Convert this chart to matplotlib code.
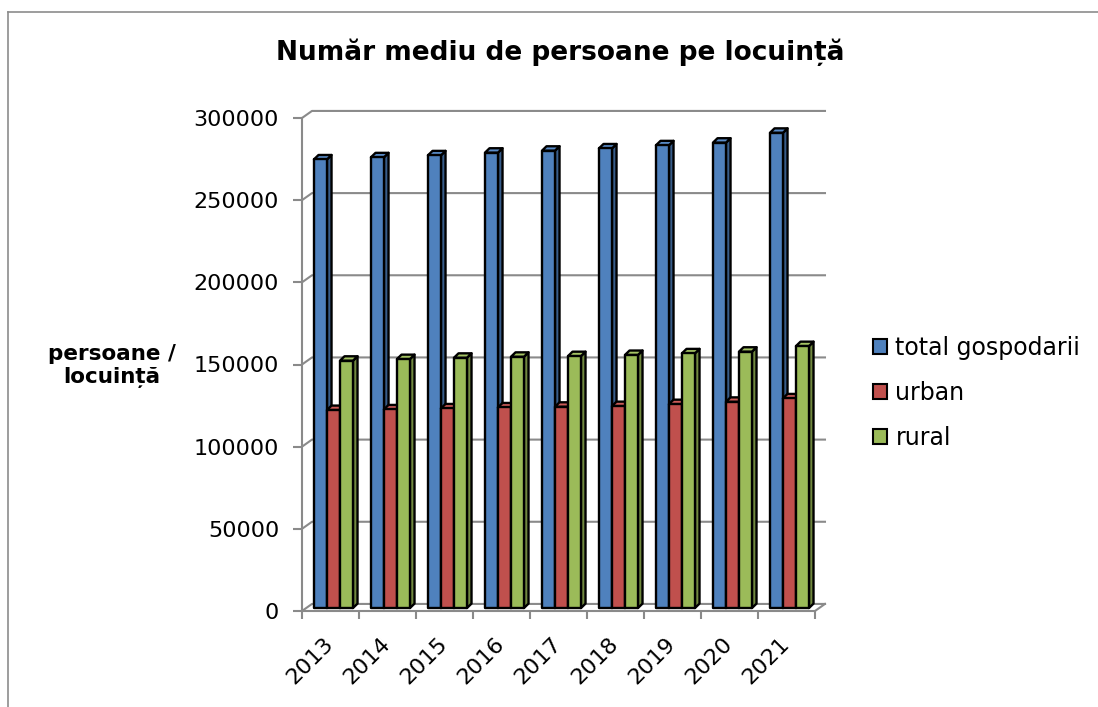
import matplotlib
matplotlib.use("Agg")
import matplotlib.pyplot as plt
from matplotlib.patches import Polygon, Patch
from matplotlib.lines import Line2D
import numpy as np

# values (persons)
years = ["2013", "2014", "2015", "2016", "2017", "2018", "2019", "2020", "2021"]
total = [273000, 274300, 275500, 277100, 278300, 279700, 281600, 283200, 289200]
urban = [120500, 120900, 121500, 122100, 122500, 122900, 124100, 125500, 127600]
rural = [150500, 151500, 152300, 152900, 153300, 154000, 155000, 156000, 159400]
series_names = ["total gospodarii", "urban", "rural"]
yticks = [0, 50000, 100000, 150000, 200000, 250000, 300000]

front_col = ["#4F81BD", "#C0504D", "#9BBB59"]
top_col = ["#5A8CC8", "#CB5B58", "#A5C464"]
side_col = ["#385D8A", "#8C3836", "#71893F"]
grid_col = "#8a8a8a"

W, H = 1098, 707
fig = plt.figure(figsize=(W / 100, H / 100), dpi=100)
ax = fig.add_axes([302 / W, 96 / H, 513 / W, 493 / H])
ax.set_xlim(-0.5, len(years) - 0.5)
ax.set_ylim(0, 300000)
ax.patch.set_visible(False)
for s in ax.spines.values():
    s.set_visible(False)

# back wall / side wall gridlines
wall_dx, wall_dy = 0.175, 4300
xr = len(years) - 0.5
for v in yticks:
    ax.plot([-0.5, -0.5 + wall_dx, xr + wall_dx], [v, v + wall_dy, v + wall_dy],
            color=grid_col, lw=1.5, clip_on=False, zorder=1)
ax.plot([-0.5, -0.5], [0, 300000], color=grid_col, lw=1.5, clip_on=False, zorder=1)
ax.plot([-0.5, xr, xr + wall_dx], [0, 0, wall_dy], color=grid_col, lw=1.5,
        clip_on=False, zorder=1)

# 3d-looking bars
bar_w = 0.228
grp_off = 0.16
plane_dx, plane_dy = 0.05, 1800
dep_dx, dep_dy = 0.08, 2700


def bar3d(x0, h, k, z):
    x0 = x0 + plane_dx
    y0 = plane_dy
    y1 = h + plane_dy
    side = [(x0 + bar_w, y0), (x0 + bar_w + dep_dx, y0 + dep_dy),
            (x0 + bar_w + dep_dx, y1 + dep_dy), (x0 + bar_w, y1)]
    top = [(x0, y1), (x0 + bar_w, y1), (x0 + bar_w + dep_dx, y1 + dep_dy),
           (x0 + dep_dx, y1 + dep_dy)]
    front = [(x0, y0), (x0 + bar_w, y0), (x0 + bar_w, y1), (x0, y1)]
    for pts, c in ((side, side_col[k]), (top, top_col[k]), (front, front_col[k])):
        ax.add_patch(Polygon(pts, closed=True, facecolor=c, edgecolor="black",
                             lw=1.7, joinstyle="round", clip_on=False, zorder=z))


data = [total, urban, rural]
for i in range(len(years)):
    for k, vals in enumerate(data):
        bar3d(i - 0.5 + grp_off + k * bar_w, vals[i], k, 3 + i * 3 + k)

# axes ticks
ax.set_yticks(yticks)
ax.set_yticklabels([str(v) for v in yticks])
ax.tick_params(axis="y", length=6.5, width=1.5, color=grid_col, labelsize=16, pad=10)
ax.set_xticks([])
ax.set_xticks(np.arange(-0.5, len(years), 1), minor=True)
ax.tick_params(axis="x", which="minor", length=5.5, width=1.5, color=grid_col)
for i, yr in enumerate(years):
    ax.annotate(yr, xy=(i, 0), xytext=(7, -23), textcoords="offset pixels",
                rotation=45, ha="right", va="top", fontsize=16)

fig.text(112 / W, 1 - 366 / H, "persoane /\nlocuință", ha="center", va="center",
         fontsize=15.5, fontweight="bold", linespacing=1.25)
fig.text(560 / W, 1 - 60 / H, "Număr mediu de persoane pe locuință", ha="center",
         va="baseline", fontsize=19, fontweight="bold")

handles = [Patch(facecolor=c, edgecolor="black", lw=1.5) for c in front_col]
fig.legend(handles, series_names, loc="center left", bbox_to_anchor=(873 / W, 1 - 393 / H),
           frameon=False, fontsize=17, handlelength=0.6, handleheight=0.6,
           handletextpad=0.35, labelspacing=0.9, borderpad=0, borderaxespad=0)

# chart area border (only top and left visible in the crop)
fig.add_artist(Line2D([7.5 / W, 7.5 / W], [0, 1 - 11.5 / H], transform=fig.transFigure,
                      color="#8c8c8c", lw=1.2))
fig.add_artist(Line2D([7.5 / W, 1], [1 - 11.5 / H, 1 - 11.5 / H], transform=fig.transFigure,
                      color="#8c8c8c", lw=1.2))

fig.savefig("out.png", dpi=100, facecolor="white")
